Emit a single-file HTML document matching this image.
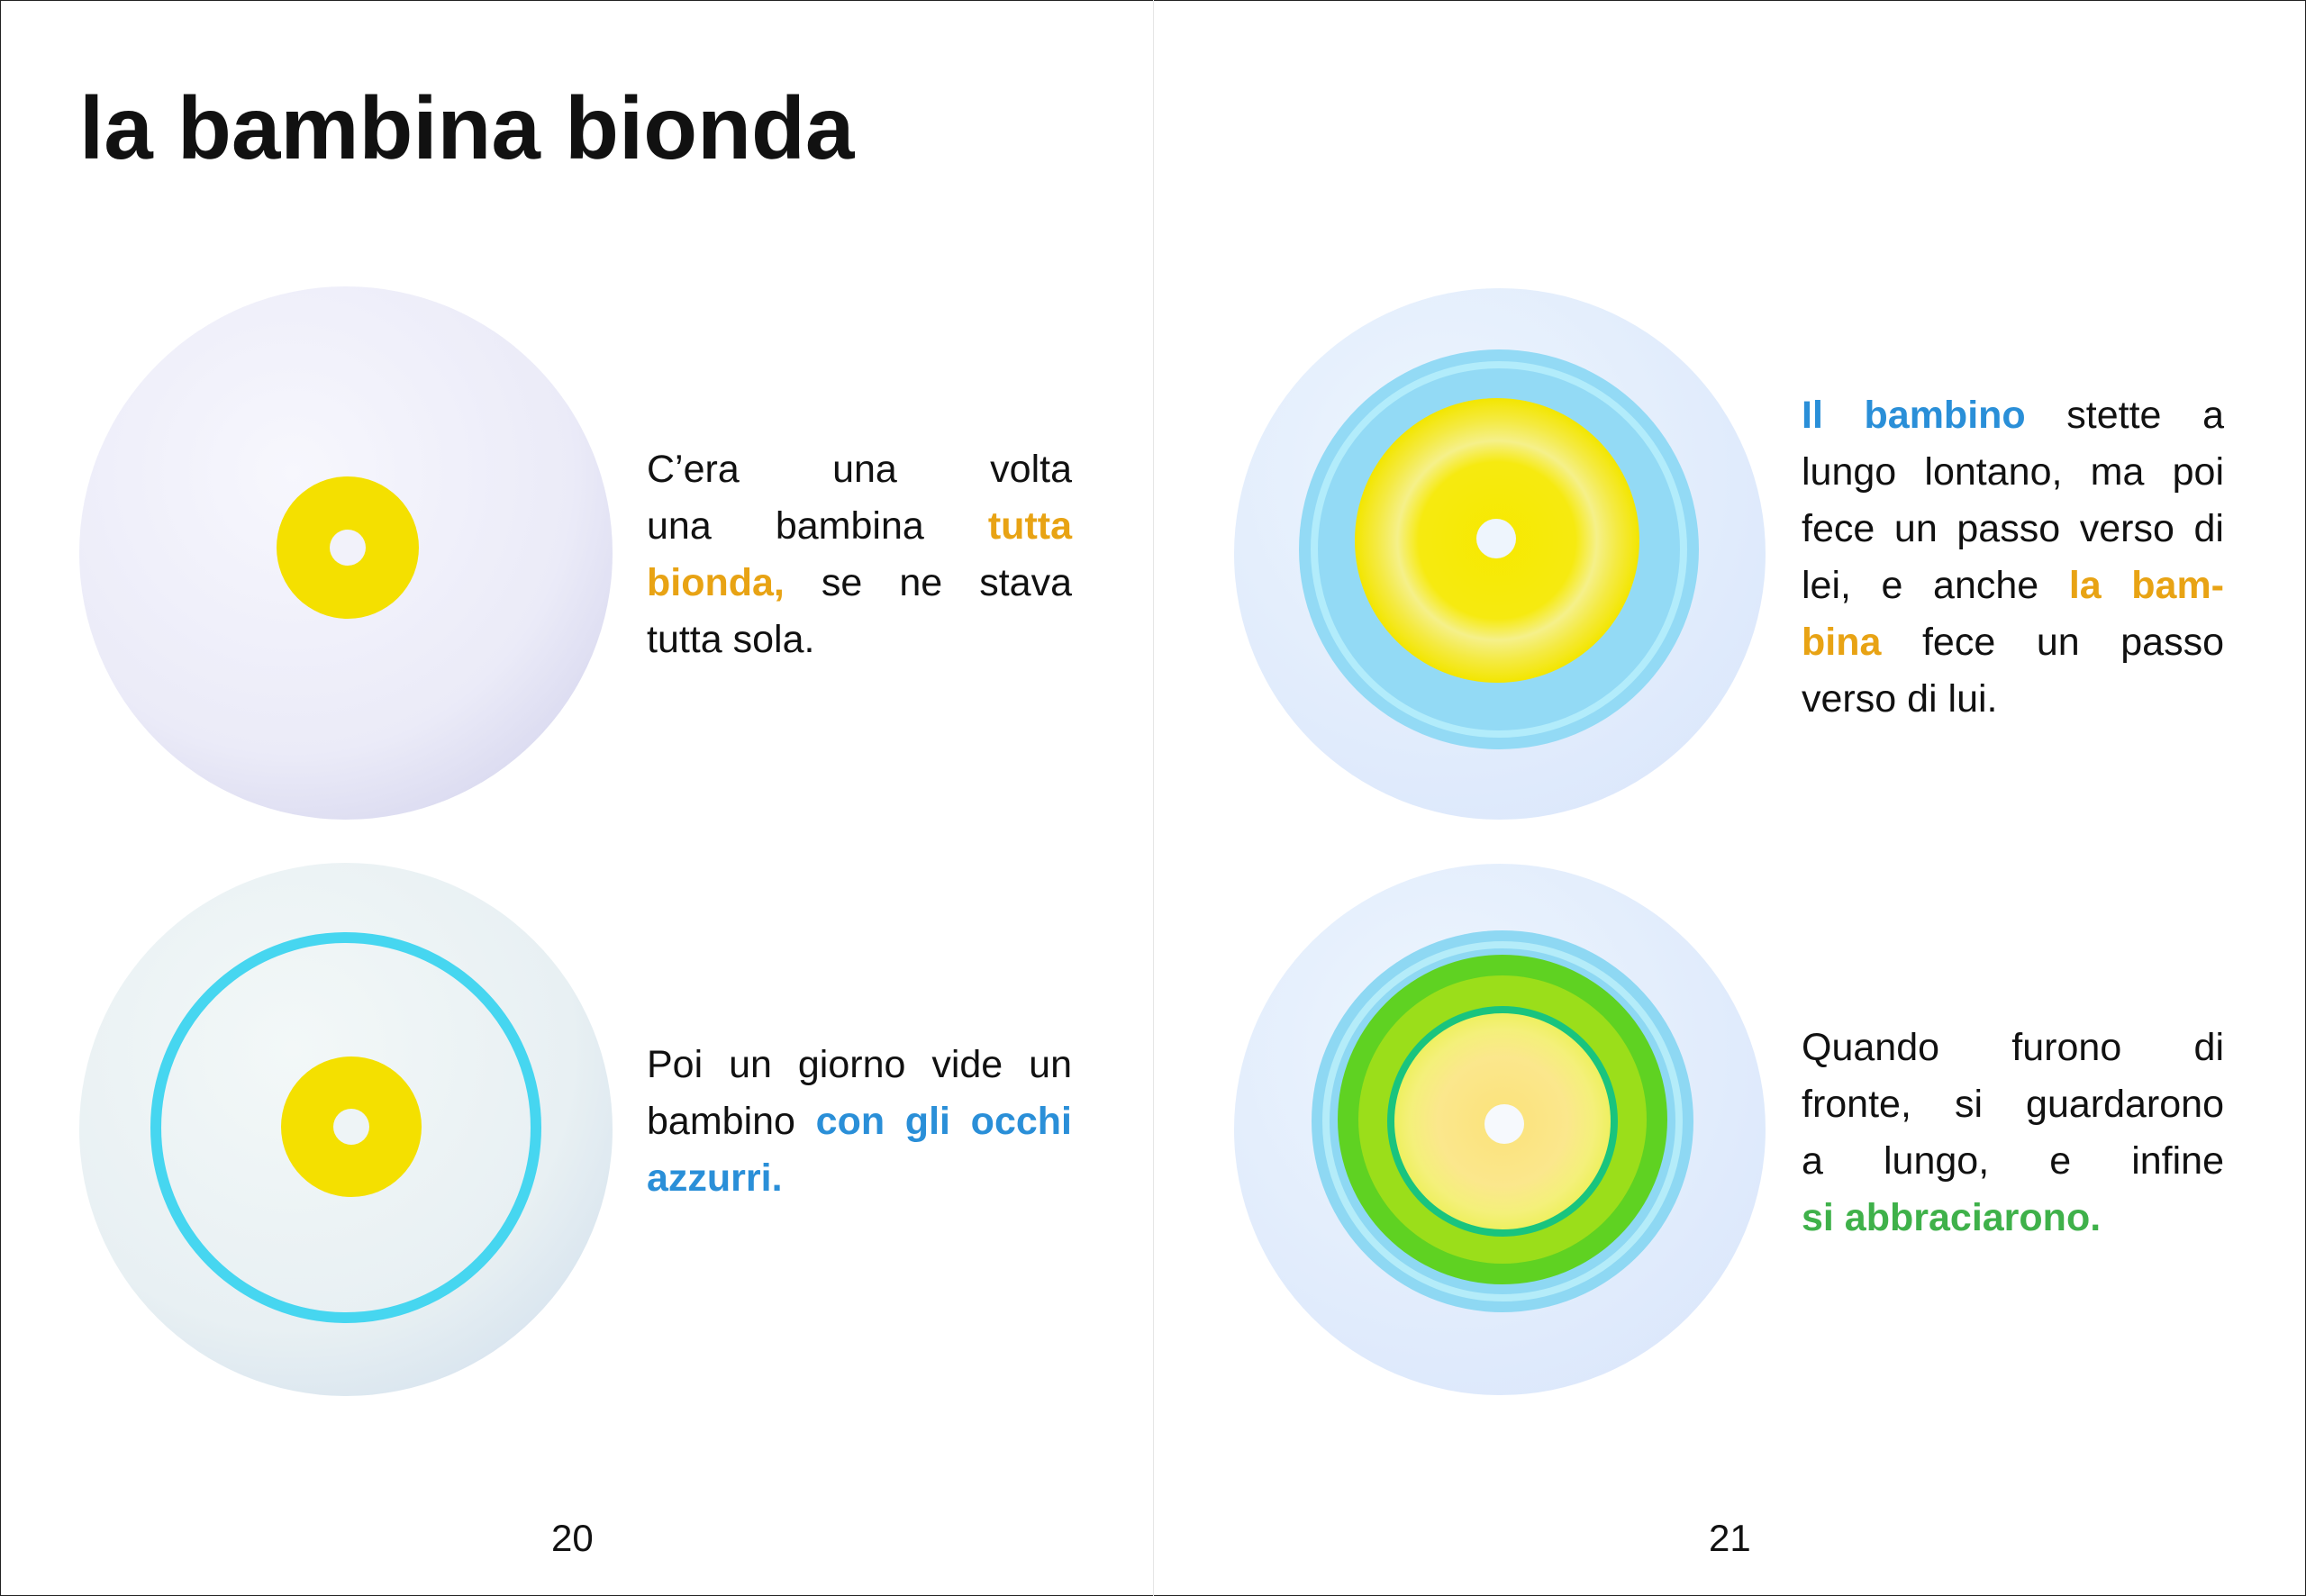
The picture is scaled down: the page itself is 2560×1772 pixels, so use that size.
<!DOCTYPE html>
<html><head><meta charset="utf-8"><style>
html,body{margin:0;padding:0;background:#fff}
body{width:2560px;height:1772px;position:relative;overflow:hidden;font-family:"Liberation Sans",sans-serif;color:#111}
.frame{position:absolute;left:0;top:0;width:2558px;height:1770px;border:1px solid #222}
.div{position:absolute;left:1280px;top:0;width:1px;height:1772px;background:#e6e6e6}
h1{position:absolute;left:88px;top:82px;margin:0;font-size:98px;font-weight:bold;letter-spacing:0px;line-height:120px}
.t{position:absolute;font-size:43px;line-height:63px;width:472px}
.t div{text-align:justify;text-align-last:justify;white-space:nowrap}
.t div.l{text-align-last:left}
.o{color:#e8a314;font-weight:bold}.b{color:#2a8fd8;font-weight:bold}.g{color:#3fb14a;font-weight:bold}
.pn{position:absolute;top:1684px;font-size:42px}
svg{position:absolute;left:0;top:0}
</style></head><body>
<svg width="2560" height="1772">
<defs>
<radialGradient id="w1" cx="0.4" cy="0.35" r="0.75"><stop offset="0" stop-color="#f7f7fd"/><stop offset="0.7" stop-color="#ebebf8"/><stop offset="1" stop-color="#d6d6ee"/></radialGradient>
<radialGradient id="w2" cx="0.4" cy="0.35" r="0.75"><stop offset="0" stop-color="#f3f8f8"/><stop offset="0.7" stop-color="#e8f0f3"/><stop offset="1" stop-color="#d5e2ee"/></radialGradient>
<radialGradient id="w3" cx="0.4" cy="0.35" r="0.75"><stop offset="0" stop-color="#eef6fe"/><stop offset="1" stop-color="#dbe7fb"/></radialGradient>
<radialGradient id="y3" cx="0.5" cy="0.5" r="0.5"><stop offset="0" stop-color="#f7e900"/><stop offset="0.55" stop-color="#f6ea10"/><stop offset="0.7" stop-color="#f5f08a"/><stop offset="0.85" stop-color="#f4ea40"/><stop offset="1" stop-color="#f3e600"/></radialGradient>
<radialGradient id="y4" cx="0.5" cy="0.5" r="0.5"><stop offset="0" stop-color="#fbe27a"/><stop offset="0.6" stop-color="#fbe78c"/><stop offset="0.85" stop-color="#f4f07a"/><stop offset="1" stop-color="#eef060"/></radialGradient>
</defs>
<circle cx="384" cy="614" r="296" fill="url(#w1)"/>
<circle cx="386" cy="608" r="79" fill="#f4e000"/>
<circle cx="386" cy="608" r="20" fill="#f2f2fa"/>
<circle cx="384" cy="1254" r="296" fill="url(#w2)"/>
<circle cx="384" cy="1252" r="211" fill="none" stroke="#46d6f0" stroke-width="12"/>
<circle cx="390" cy="1251" r="78" fill="#f4e000"/>
<circle cx="390" cy="1251" r="20" fill="#eef4f6"/>
<circle cx="1665" cy="615" r="295" fill="url(#w3)"/>
<circle cx="1664" cy="610" r="222" fill="#93daf5"/>
<circle cx="1664" cy="610" r="205" fill="none" stroke="#b2ecfb" stroke-width="8"/>
<circle cx="1662" cy="600" r="158" fill="url(#y3)"/>
<circle cx="1661" cy="598" r="22" fill="#eef5fd"/>
<circle cx="1665" cy="1254" r="295" fill="url(#w3)"/>
<circle cx="1668" cy="1245" r="212" fill="#8ed8f3"/>
<circle cx="1668" cy="1245" r="196" fill="none" stroke="#b4ecf9" stroke-width="8"/>
<circle cx="1668" cy="1243" r="183" fill="#5fd222"/>
<circle cx="1668" cy="1243" r="160" fill="#9bde1a"/>
<circle cx="1668" cy="1245" r="128" fill="#19c47e"/>
<circle cx="1668" cy="1245" r="120" fill="url(#y4)"/>
<circle cx="1670" cy="1248" r="22" fill="#f6f9fd"/>
</svg>
<div class="frame"></div>
<div class="div"></div>
<h1>la bambina bionda</h1>
<div class="t" style="left:718px;top:490px">
<div>C’era una volta</div>
<div>una bambina <span class="o">tutta</span></div>
<div><span class="o">bionda,</span> se ne stava</div>
<div class="l">tutta sola.</div>
</div>
<div class="t" style="left:718px;top:1151px">
<div>Poi un giorno vide un</div>
<div>bambino <span class="b">con gli occhi</span></div>
<div class="l"><span class="b">azzurri.</span></div>
</div>
<div class="t" style="left:2000px;top:430px;width:469px">
<div><span class="b">Il bambino</span> stette a</div>
<div>lungo lontano, ma poi</div>
<div>fece un passo verso di</div>
<div>lei, e anche <span class="o">la bam-</span></div>
<div><span class="o">bina</span> fece un passo</div>
<div class="l">verso di lui.</div>
</div>
<div class="t" style="left:2000px;top:1132px;width:469px">
<div>Quando furono di</div>
<div>fronte, si guardarono</div>
<div>a lungo, e infine</div>
<div class="l"><span class="g">si abbraciarono.</span></div>
</div>
<div class="pn" style="left:612px">20</div>
<div class="pn" style="left:1897px">21</div>
</body></html>
